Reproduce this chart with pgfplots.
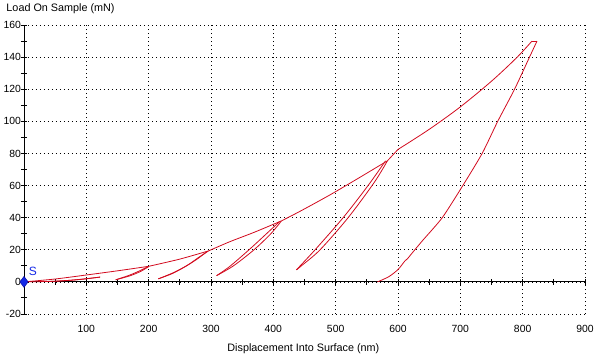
\documentclass[border=0pt]{standalone}
\usepackage{pgfplots}
\pgfplotsset{compat=1.18}
\usepackage{fontspec}
\setmainfont{Liberation Sans}
\definecolor{curve}{RGB}{210,10,30}
\definecolor{mkblue}{RGB}{20,40,230}
\begin{document}
\begin{tikzpicture}[font=\fontsize{10.4}{12}\selectfont]
\path[use as bounding box] (-24pt,-43pt) rectangle (571pt,314pt);
\begin{axis}[
  at={(0,0)}, anchor=south west,
  scale only axis, width=561pt, height=289pt,
  xmin=0, xmax=900, ymin=-20, ymax=160,
  enlargelimits=false, clip=false,
  xtick={0,100,...,900},
  xticklabels={,100,200,300,400,500,600,700,800,900},
  ytick={-20,0,...,160},
  yticklabel style={/pgf/number format/assume math mode=true, xshift=0.5pt},
  xticklabel style={yshift=-7.5pt},
  axis line style={draw=none},
  major tick length=0pt, minor tick length=0pt,
  grid=major,
  major grid style={black, line width=0.7pt, dash pattern=on 0.8pt off 3.2pt},
  xlabel={Displacement Into Surface (nm)},
  ylabel={Load On Sample (mN)},
  every axis x label/.style={at={(axis description cs:0.498,-0.121)}, anchor=center, font=\fontsize{10.8}{12}\selectfont},
  every axis y label/.style={at={(axis description cs:-0.0375,1.055)}, anchor=west, font=\fontsize{10.8}{12}\selectfont},
]
% axis lines at zero
\draw[black, line width=0.9pt] (axis cs:0,-20) -- (axis cs:0,160);
\draw[black, line width=0.9pt] (axis cs:0,0) -- (axis cs:900,0);
\pgfplotsinvokeforeach{-20,-10,...,160}{\draw[black, line width=0.9pt] ([xshift=-3pt]axis cs:0,#1) -- ([xshift=3pt]axis cs:0,#1);}
\pgfplotsinvokeforeach{50,100,...,900}{\draw[black, line width=0.9pt] ([yshift=-3pt]axis cs:#1,0) -- ([yshift=3pt]axis cs:#1,0);}
% loading envelope
\addplot[curve, line width=0.8pt, smooth, tension=0.5] coordinates {(0,0) (50,1.8) (100,4.3) (150,6.9) (200,9.7)};
\addplot[curve, line width=0.8pt, smooth, tension=0.5] coordinates {(200,9.7) (250,14.2) (296,19.3)};
\addplot[curve, line width=0.8pt, smooth, tension=0.5] coordinates {(296,19.3) (330,25) (370,31) (413,38)};
\addplot[curve, line width=0.8pt, smooth, tension=0.5] coordinates {(413,38) (443,44) (490,54) (534,64) (583,75.4)};
\addplot[curve, line width=0.8pt] coordinates {(583,75.4) (600,82.5)};
\addplot[curve, line width=0.8pt, smooth, tension=0.5] coordinates {(600,82.5) (650,95) (700,109) (750,125) (790,139.5) (815,150)};
\addplot[curve, line width=0.8pt] coordinates {(815,150) (823,150)};
% cycle 1
\addplot[curve, line width=0.8pt, smooth, tension=0.5] coordinates {(0,0) (40,0.3) (80,1.2) (122,3.0)};
\addplot[curve, line width=0.8pt, smooth, tension=0.5] coordinates {(122,3.0) (95,1.7) (60,0.6) (35,0.2)};
% cycle 2
\addplot[curve, line width=0.8pt, smooth, tension=0.5] coordinates {(200,9.7) (185,6.8) (168,4) (147,1.3)};
\addplot[curve, line width=0.8pt, smooth, tension=0.5] coordinates {(147,1.3) (170,3.8) (187,6.5) (200,9.5)};
% cycle 3
\addplot[curve, line width=0.8pt, smooth, tension=0.5] coordinates {(296,19.3) (280,15.2) (262,10.3) (240,5.8) (215.5,1.9)};
\addplot[curve, line width=0.8pt, smooth, tension=0.5] coordinates {(215.5,1.9) (238,5.2) (258,9.4) (277,14) (294,19)};
% cycle 4
\addplot[curve, line width=0.8pt, smooth, tension=0.5] coordinates {(413,38) (396,30) (369,20) (336,10) (309,3.9)};
\addplot[curve, line width=0.8pt, smooth, tension=0.5] coordinates {(309,3.9) (330,9.6) (361,20) (389,30) (410,37.6)};
% cycle 5
\addplot[curve, line width=0.8pt, smooth, tension=0.5] coordinates {(583,75.4) (562,62) (520,40) (475,20) (445,10) (437,7.5)};
\addplot[curve, line width=0.8pt, smooth, tension=0.5] coordinates {(437,7.5) (467,20) (512,40) (552,60) (580,75.4)};
% final unload
\addplot[curve, line width=0.8pt, smooth, tension=0.4] coordinates {(823,150) (811,140) (787,120) (760,100) (735,80) (704,60) (671,40) (640,26) (627,20) (615,14.3)};
\addplot[curve, line width=0.8pt, smooth, tension=0.5] coordinates {(615,14.3) (611,13.0) (600,7.7) (585,3.2) (567,0)};
% surface marker
\addplot[only marks, mark=diamond*, mark size=5.5pt, mark options={fill=mkblue, draw=blue!60!black}] coordinates {(0,0)}
  node[text=mkblue, font=\fontsize{12}{14}\selectfont, anchor=center, xshift=9pt, yshift=11pt] {S};
\end{axis}
\end{tikzpicture}
\end{document}
